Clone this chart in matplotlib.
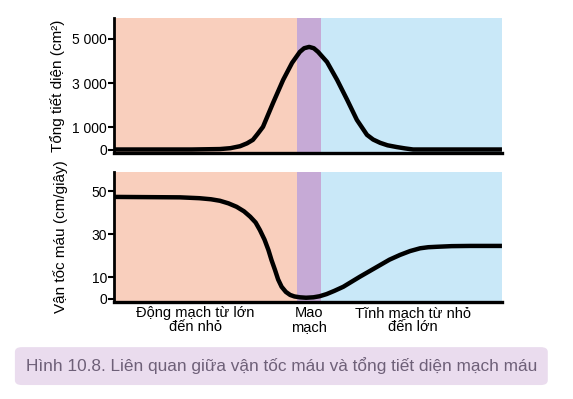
import matplotlib
matplotlib.use('Agg')
import matplotlib.pyplot as plt
from matplotlib.patches import FancyBboxPatch

plt.rcParams['font.family'] = ['Liberation Sans', 'DejaVu Sans']

# vùng mạch máu (toạ độ x từ 0 đến 100)
regions = [(0, 47.2, '#f9cfbd'), (47.2, 53.4, '#c6aad6'), (53.4, 100, '#c9e8f8')]
region_labels = ['Động mạch từ lớn\nđến nhỏ', 'Mao\nmạch', 'Tĩnh mạch từ nhỏ\nđến lớn']
region_label_x = [21, 50.3, 77]

# tổng tiết diện (cm2)
area_x = [0, 20, 27.3, 30, 32.5, 34.3, 35.8, 37, 38.4, 41.0, 43.6, 45.9, 47.9,
          49.0, 50.3, 51.5, 52.6, 54.9, 57.5, 60.1, 62.6, 65.2, 66.8, 68.6,
          70.5, 72.9, 75, 77.1, 100]
area_y = [0, 0, 20, 60, 150, 280, 437, 700, 1025, 2110, 3150, 3920, 4415,
          4580, 4640, 4580, 4415, 3960, 3150, 2245, 1340, 663, 450, 302,
          190, 110, 50, 0, 0]
area_ticks = [0, 1000, 3000, 5000]
area_ticklabels = ['0', '1 000', '3 000', '5 000']

# vận tốc máu (cm/giây)
speed_x = [0, 17, 22, 25, 27.3, 29.5, 31.6, 33.5, 35.1, 36.5, 37.6, 38.8, 39.8,
           40.6, 41.5, 42.3, 43.2, 44.3, 45.4, 46.5, 47.9, 49.5, 51.4, 53,
           54.8, 56.8, 59.1, 61.2, 63.4, 66, 68.6, 71, 73.7, 76.3, 78.9, 81,
           83.2, 87, 91.8, 100]
speed_y = [47.4, 47.2, 46.8, 46.3, 45.6, 44.4, 42.8, 40.7, 38.2, 35.5, 32.0,
           27.5, 22.7, 18, 13.4, 9, 5.6, 3.2, 1.8, 1.1, 0.7, 0.5, 0.7, 1.2,
           2.2, 3.7, 5.6, 7.9, 10.3, 13, 15.7, 18.2, 20.4, 22.2, 23.5, 24,
           24.2, 24.5, 24.6, 24.6]
speed_ticks = [0, 10, 30, 50]

caption = 'Hình 10.8. Liên quan giữa vận tốc máu và tổng tiết diện mạch máu'

fig = plt.figure(figsize=(5.73, 3.99), dpi=100)
ax1 = fig.add_axes([0.199, 0.617, 0.677, 0.338])
ax2 = fig.add_axes([0.199, 0.243, 0.677, 0.326])

for ax in (ax1, ax2):
    for x0, x1, c in regions:
        ax.axvspan(x0, x1, color=c, lw=0, zorder=0)
    ax.set_xlim(0, 100)
    ax.set_xticks([])
    ax.spines['top'].set_visible(False)
    ax.spines['right'].set_visible(False)
    ax.spines['left'].set_linewidth(2)
    ax.spines['bottom'].set_linewidth(2.4)
    ax.tick_params(axis='y', length=4, width=1.5, labelsize=10, pad=1)

ax1.plot(area_x, area_y, color='black', lw=3.2, solid_capstyle='butt',
         solid_joinstyle='round', zorder=3)
ax1.set_ylim(-150, 5950)
ax1.set_yticks(area_ticks)
ax1.set_yticklabels(area_ticklabels)
ax1.set_ylabel('Tổng tiết diện (cm²)', fontsize=11, labelpad=5)

ax2.plot(speed_x, speed_y, color='black', lw=3.2, solid_capstyle='butt',
         solid_joinstyle='round', zorder=3)
ax2.set_ylim(-1.5, 59)
ax2.set_yticks(speed_ticks)
ax2.set_ylabel('Vận tốc máu (cm/giây)', fontsize=11, labelpad=17)

for lx, lab in zip(region_label_x, region_labels):
    ax2.text(lx, -3.2, lab, ha='center', va='top', fontsize=10.5,
             linespacing=1.05)

box = FancyBboxPatch((0.026, 0.035), 0.93, 0.095, transform=fig.transFigure,
                     boxstyle='round,pad=0,rounding_size=0.012',
                     facecolor='#eadcee', edgecolor='none')
fig.patches.append(box)
fig.text(0.491, 0.083, caption, ha='center', va='center', fontsize=12.4,
         color='#6e6078')

fig.savefig('out.png', dpi=100)
